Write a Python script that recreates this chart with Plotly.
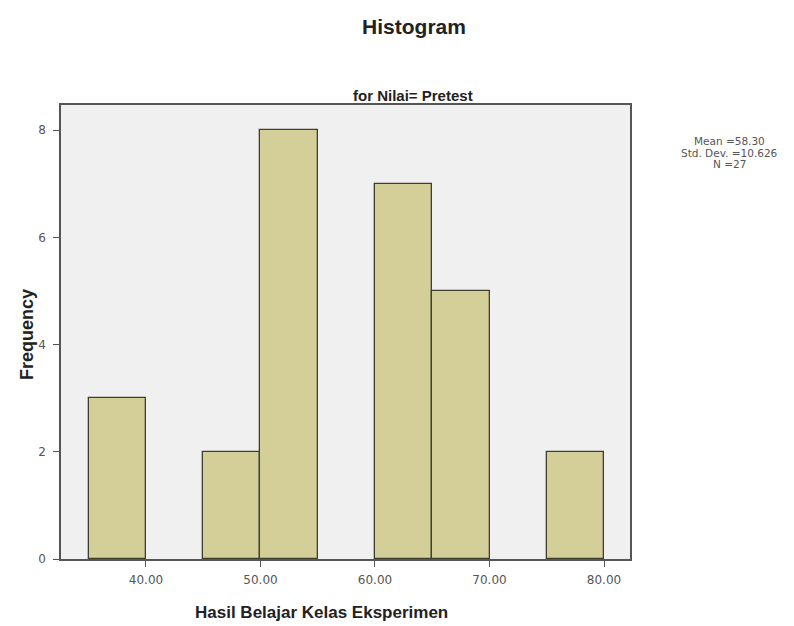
import plotly.graph_objects as go

bin_starts = [35, 45, 50, 60, 65, 75]
counts = [3, 2, 8, 7, 5, 2]
bin_width = 5
x_ticks = [40, 50, 60, 70, 80]
x_tick_labels = ["40.00", "50.00", "60.00", "70.00", "80.00"]
y_ticks = [0, 2, 4, 6, 8]
stats_lines = ["Mean =58.30", "Std. Dev. =10.626", "N =27"]

centers = [s + bin_width / 2 for s in bin_starts]

L, R, T, B = 53, 172, 97, 75
W, H = 794, 626
pw, ph = W - L - R, H - T - B

def px(xpix):
    return (xpix - L) / pw

def py(ypix):
    return (H - B - ypix) / ph

fig = go.Figure()
fig.add_trace(go.Bar(
    x=centers, y=counts, width=[bin_width] * len(counts),
    marker=dict(color="#d4cf98", line=dict(color="#3f3f30", width=1.3)),
    showlegend=False, hoverinfo="skip",
))

fig.update_layout(
    width=W, height=H,
    margin=dict(l=L, r=R, t=T, b=B),
    paper_bgcolor="white",
    plot_bgcolor="#f0f0f0",
    font=dict(family="Liberation Sans, Arial, sans-serif", color="#333"),
    bargap=0,
    title=dict(text="<b>Histogram</b>", x=406 / W, xanchor="center", y=1 - 19 / H, yanchor="middle",
               font=dict(size=21, color="#222")),
    xaxis=dict(range=[32.58, 82.27], tickvals=x_ticks, ticktext=x_tick_labels,
               showgrid=False, zeroline=False, showline=True, linecolor="#555", linewidth=1.6,
               mirror=True, ticks="outside", ticklen=6, tickcolor="#555", ticklabelstandoff=3,
               tickfont=dict(family="DejaVu Sans, sans-serif", size=12, color="#555")),
    yaxis=dict(range=[0, 8.47], tickvals=y_ticks,
               showgrid=False, zeroline=False, showline=True, linecolor="#555", linewidth=1.6,
               mirror=True, ticks="outside", ticklen=6, tickcolor="#555", ticklabelstandoff=5,
               tickfont=dict(family="DejaVu Sans, sans-serif", size=12, color="#555")),
)

fig.add_annotation(text="<b>for Nilai= Pretest</b>", xref="paper", yref="paper",
                   x=px(405), y=py(87), yanchor="middle", showarrow=False,
                   font=dict(size=15, color="#222"))
fig.add_annotation(text="<b>Hasil Belajar Kelas Eksperimen</b>", xref="paper", yref="paper",
                   x=px(185), y=py(604), xanchor="left", yanchor="middle", showarrow=False,
                   font=dict(size=17, color="#222"))
fig.add_annotation(text="<b>Frequency</b>", xref="paper", yref="paper", textangle=-90,
                   x=px(19), y=py(327), xanchor="center", yanchor="middle", showarrow=False,
                   font=dict(size=18, color="#222"))
for i, line in enumerate(stats_lines):
    fig.add_annotation(text=line, xref="paper", yref="paper",
                       x=px(721), y=py(133 + 11.5 * i), xanchor="center", yanchor="middle",
                       showarrow=False, font=dict(family="DejaVu Sans, sans-serif", size=10.5, color="#555"))

fig.write_html("out.html")
